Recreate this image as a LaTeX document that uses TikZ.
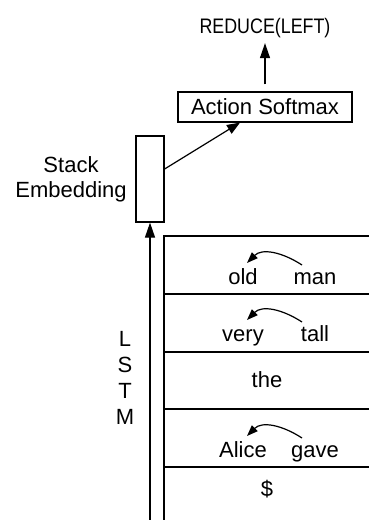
\documentclass[tikz,border=0pt]{standalone}
\usepackage{fontspec}
\setmainfont{Liberation Sans}
\usetikzlibrary{arrows.meta,calc}
\begin{document}
\begin{tikzpicture}[x=1pt,y=-1pt,
  every node/.style={inner sep=0pt},
  txt/.style={font=\fontsize{22}{26}\selectfont},
  word/.style={txt,text height=16pt,text depth=5pt,anchor=base},
  boxline/.style={line width=1.2pt},
  bigarr/.style={line width=1.2pt,-{Triangle[length=15pt,width=10pt]}},
  midarr/.style={line width=1.2pt,-{Triangle[length=13pt,width=10pt]}},
  curvearr/.style={line width=1.2pt,-{Triangle[length=11pt,width=8pt]}}]
\useasboundingbox (0,0) rectangle (369,520);
% top
\node[font=\fontsize{21}{25}\selectfont,anchor=base] (reduce) at (265,33) {\scalebox{0.85}[1]{REDUCE(LEFT)}};
\node[draw,boxline,txt,minimum width=174pt,minimum height=30pt] (softmax) at (265,107) {Action Softmax};
\node[draw,boxline,minimum width=28pt,minimum height=86pt] (stack) at (150,179) {};
\node[txt,anchor=base] (stacklbl1) at (71,172) {Stack};
\node[txt,anchor=base] (stacklbl2) at (71,197) {Embedding};
\node[txt,align=center,anchor=base] (lstm) at (125,424) {L\\S\\T\\M};
% connectors
\draw[bigarr,shorten <=7pt,shorten >=5.6pt] (softmax.north) -- (reduce.south);
\draw[midarr] ($(stack.east)+(0,-10)$) -- ($(softmax.south)+(-25,0)$);
\coordinate (lstmfoot) at (150,520);
\draw[bigarr] (lstmfoot) -- (stack.south);
% stack cells
\coordinate (cellbot) at (164,520);
\coordinate (celltl) at (164,236);
\coordinate (celltr) at (369,236);
\draw[boxline] (cellbot) -- (celltl) -- (celltr);
\foreach \yy in {294,352,409,467} \draw[boxline] (164,\yy) -- (369,\yy);
% words
\node[word] (old) at (243,284) {old};
\node[word] (man) at (315,284) {man};
\node[word] (very) at (243,341) {very};
\node[word] (tall) at (315,341) {tall};
\node[word] (the) at (267,387) {the};
\node[word] (alice) at (243,457) {Alice};
\node[word] (gave) at (315,457) {gave};
\node[word] (dollar) at (267,496) {\$};
% dependency arcs
\draw[curvearr] ($(man.base)+(-13,-19)$) .. controls +(-20,-13) and +(15,-15) .. ($(old.base)+(4,-21)$);
\draw[curvearr] ($(tall.base)+(-13,-19)$) .. controls +(-20,-13) and +(15,-15) .. ($(very.base)+(4,-21)$);
\draw[curvearr] ($(gave.base)+(-13,-19)$) .. controls +(-20,-13) and +(15,-15) .. ($(alice.base)+(4,-21)$);
\end{tikzpicture}
\end{document}
